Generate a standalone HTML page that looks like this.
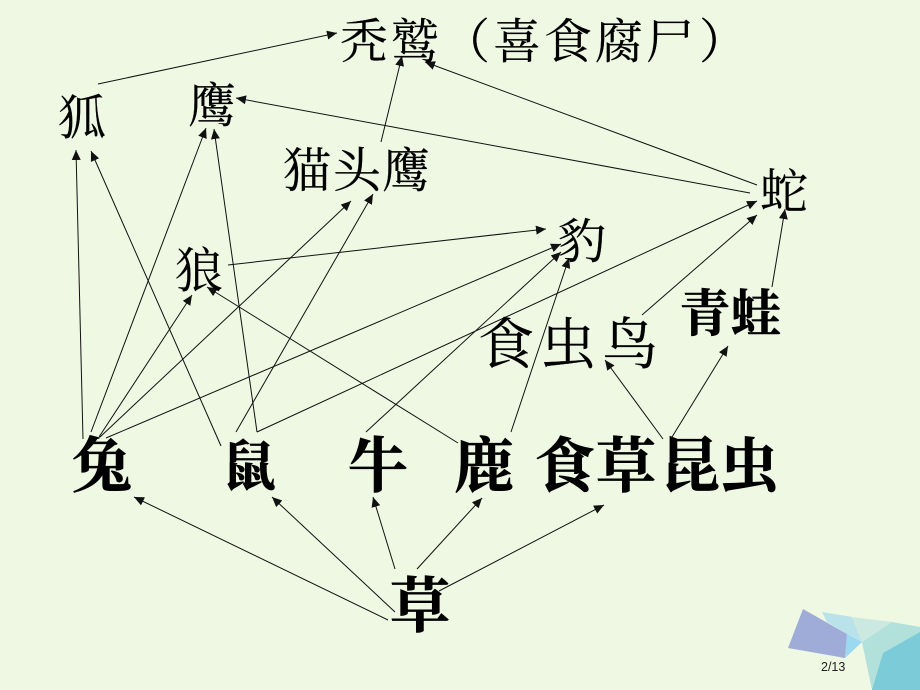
<!DOCTYPE html>
<html><head><meta charset="utf-8">
<style>
html,body{margin:0;padding:0;background:#eef8e3;width:920px;height:690px;overflow:hidden}
svg{display:block}
.t{font-family:"Liberation Serif","Noto Serif CJK SC",serif;fill:#000;stroke:#000;stroke-width:.2}
.b{font-weight:700;stroke-width:.7}
.l line{stroke:#111;stroke-width:1;marker-end:url(#a)}
</style></head><body>
<svg width="920" height="690" viewBox="0 0 920 690" xmlns="http://www.w3.org/2000/svg">
<defs><marker id="a" markerUnits="userSpaceOnUse" markerWidth="12" markerHeight="10" refX="10" refY="4.5" orient="auto"><path d="M0,0L10,4.5L0,9Z" fill="#111"/></marker></defs>
<rect width="920" height="690" fill="#eef8e3"/>
<polygon points="822,612 852,617 862,642 847,634 827,622" fill="#b9e2ea"/>
<polygon points="852,617 892,622 862,642" fill="#cbe9e0"/>
<polygon points="847,634 862,642 845,658" fill="#9bd9f0"/>
<polygon points="892,622 920,627 920,690 872,690 862,642" fill="#b2e1dc"/>
<polygon points="883,653 920,632 920,690 872,690" fill="#7ccbd8"/>
<polygon points="803,609 847,634 845,658 788,648" fill="#a0acd8"/>
<g class="l">
<line x1="98" y1="84" x2="337" y2="33"/>
<line x1="757" y1="185" x2="425" y2="62"/>
<line x1="750" y1="193" x2="236" y2="98"/>
<line x1="381" y1="142" x2="402" y2="56"/>
<line x1="83" y1="439" x2="76" y2="150"/>
<line x1="221" y1="446" x2="91" y2="151"/>
<line x1="91" y1="432" x2="206" y2="128"/>
<line x1="257" y1="432" x2="214" y2="129"/>
<line x1="99" y1="437" x2="192" y2="295"/>
<line x1="100" y1="437" x2="351" y2="201"/>
<line x1="236" y1="432" x2="373" y2="194"/>
<line x1="106" y1="438" x2="561" y2="244"/>
<line x1="257" y1="432" x2="757" y2="201"/>
<line x1="366" y1="432" x2="561" y2="252"/>
<line x1="511" y1="432" x2="569" y2="258"/>
<line x1="458" y1="443" x2="207" y2="287"/>
<line x1="228" y1="265" x2="546" y2="229"/>
<line x1="642" y1="315" x2="757" y2="215"/>
<line x1="772" y1="287" x2="785" y2="209"/>
<line x1="663" y1="439" x2="605" y2="360"/>
<line x1="672" y1="437" x2="728" y2="346"/>
<line x1="388" y1="620" x2="134" y2="497"/>
<line x1="395" y1="612" x2="272" y2="497"/>
<line x1="395" y1="569" x2="373" y2="497"/>
<line x1="417" y1="569" x2="482" y2="498"/>
<line x1="439" y1="591" x2="604" y2="505"/>
</g>
<text class="t" font-size="48" y="58" x="340 391 442 493 544 595 646 699">秃鹫（喜食腐尸）</text>
<text class="t" font-size="48" x="58" y="134">狐</text>
<text class="t" font-size="48" x="188" y="122">鹰</text>
<text class="t" font-size="48" y="187" x="283 333 382">猫头鹰</text>
<text class="t" font-size="48" x="175" y="287">狼</text>
<text class="t" font-size="48" x="558" y="258">豹</text>
<text class="t" font-size="48" x="760" y="208">蛇</text>
<text class="t" font-size="56" y="364" x="478 540 602">食虫鸟</text>
<text class="t b" font-size="50" y="331" x="680 731">青蛙</text>
<text class="t b" font-size="60" y="487" x="72">兔</text>
<text class="t b" font-size="54" y="485" x="222">鼠</text>
<text class="t b" font-size="60" y="487" x="348">牛</text>
<text class="t b" font-size="60" y="487" x="454">鹿</text>
<text class="t b" font-size="60" y="487" x="535 596 660 719">食草昆虫</text>
<text class="t b" font-size="60" y="627" x="390">草</text>
<text x="821" y="671" font-family="Liberation Sans,sans-serif" font-size="12.5" fill="#222">2/13</text>
</svg>
</body></html>
